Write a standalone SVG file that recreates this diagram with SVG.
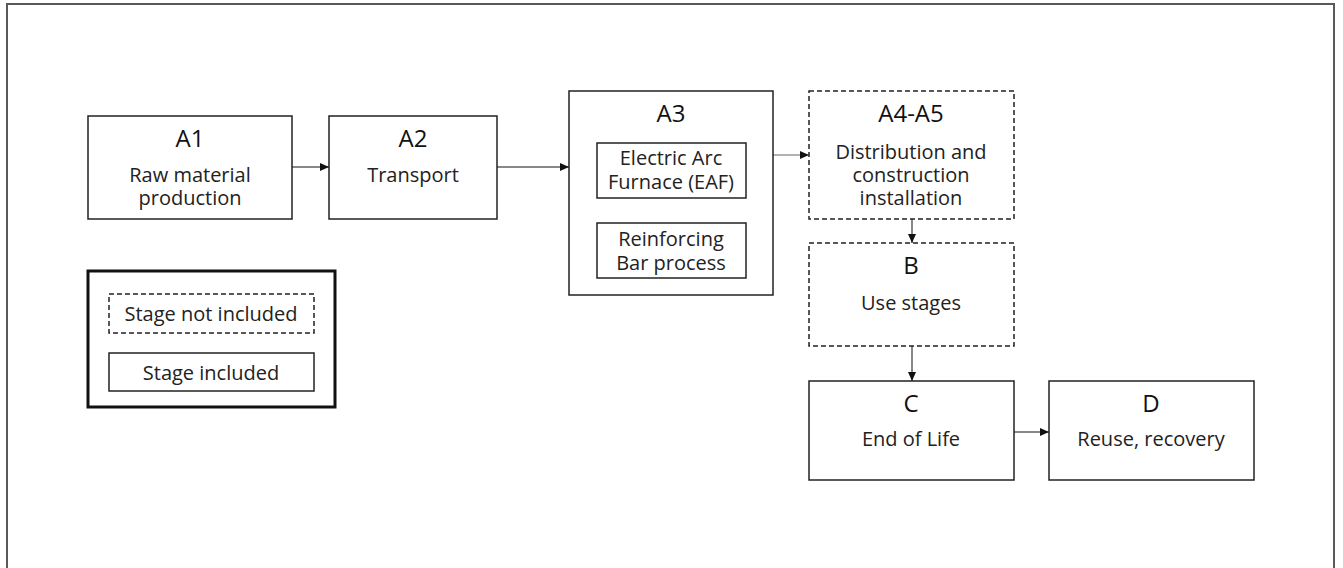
<svg xmlns="http://www.w3.org/2000/svg" width="1343" height="568" viewBox="0 0 1343 568">
<defs>
<style>
.bx{fill:#fff;stroke:#222;stroke-width:1.5}
.ds{fill:#fff;stroke:#222;stroke-width:1.5;stroke-dasharray:5 3}
.hd{font-family:"Open Sans","Noto Sans",sans-serif;font-size:24px;fill:#111;text-anchor:middle}
.tx{font-family:"Open Sans","Noto Sans",sans-serif;font-size:20px;fill:#222;text-anchor:middle}
.cn{stroke:#111;stroke-width:1;fill:none;marker-end:url(#ah)}
</style>
<marker id="ah" markerWidth="9" markerHeight="8" refX="9" refY="4" orient="auto" markerUnits="userSpaceOnUse">
<path d="M0,0 L9,4 L0,8 Z" fill="#111"/>
</marker>
</defs>
<rect x="0" y="0" width="1343" height="568" fill="#fff"/>
<path d="M7,570 V4 H1334 V570" fill="none" stroke="#595959" stroke-width="2"/>

<g id="connectors">
<line class="cn" x1="292" y1="167" x2="329" y2="167"/>
<line class="cn" x1="497" y1="167" x2="569" y2="167"/>
<line class="cn" x1="773" y1="155" x2="809" y2="155" style="stroke:#666"/>
<line class="cn" x1="912" y1="219" x2="912" y2="243"/>
<line class="cn" x1="912" y1="346" x2="912" y2="381"/>
<line class="cn" x1="1014" y1="432" x2="1049" y2="432"/>
</g>

<g id="A1">
<rect class="bx" x="88" y="116" width="204" height="103"/>
<text class="hd" x="190" y="147">A1</text>
<text class="tx" x="190" y="182">Raw material</text>
<text class="tx" x="190" y="205">production</text>
</g>

<g id="A2">
<rect class="bx" x="329" y="116" width="168" height="103"/>
<text class="hd" x="413" y="147">A2</text>
<text class="tx" x="413" y="182">Transport</text>
</g>

<g id="A3">
<rect class="bx" x="569" y="91" width="204" height="204"/>
<text class="hd" x="671" y="122">A3</text>
<g id="A3-EAF">
<rect class="bx" x="597" y="143" width="149" height="55"/>
<text class="tx" x="671" y="165">Electric Arc</text>
<text class="tx" x="671" y="189">Furnace (EAF)</text>
</g>
<g id="A3-Bar">
<rect class="bx" x="597" y="223" width="149" height="55"/>
<text class="tx" x="671" y="246">Reinforcing</text>
<text class="tx" x="671" y="270">Bar process</text>
</g>
</g>

<g id="A4A5">
<rect class="ds" x="809" y="91" width="205" height="128"/>
<text class="hd" x="911" y="122">A4-A5</text>
<text class="tx" x="911" y="159">Distribution and</text>
<text class="tx" x="911" y="182">construction</text>
<text class="tx" x="911" y="205">installation</text>
</g>

<g id="B">
<rect class="ds" x="809" y="243" width="205" height="103"/>
<text class="hd" x="911" y="274">B</text>
<text class="tx" x="911" y="310">Use stages</text>
</g>

<g id="C">
<rect class="bx" x="809" y="381" width="205" height="99"/>
<text class="hd" x="911" y="412">C</text>
<text class="tx" x="911" y="446">End of Life</text>
</g>

<g id="D">
<rect class="bx" x="1049" y="381" width="205" height="99"/>
<text class="hd" x="1151" y="412">D</text>
<text class="tx" x="1151" y="446">Reuse, recovery</text>
</g>

<g id="legend">
<rect x="88" y="271" width="247" height="136" fill="#fff" stroke="#111" stroke-width="3"/>
<rect class="ds" x="109" y="294" width="205" height="39"/>
<text class="tx" x="211" y="321">Stage not included</text>
<rect class="bx" x="109" y="353" width="205" height="38"/>
<text class="tx" x="211" y="380">Stage included</text>
</g>
</svg>
